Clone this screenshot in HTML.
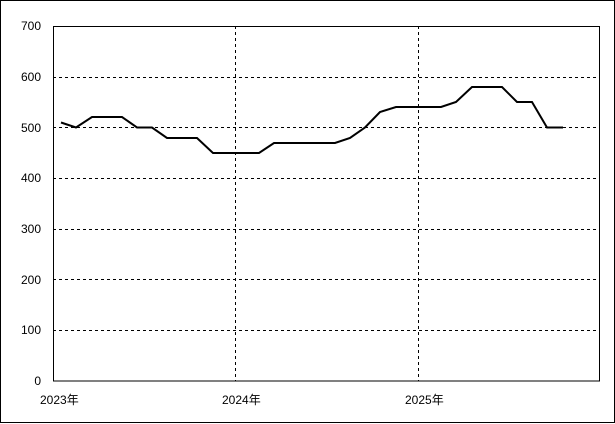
<!DOCTYPE html>
<html><head><meta charset="utf-8"><style>
html,body{margin:0;padding:0;background:#fff;}
svg{display:block;}
text{font-family:"Liberation Sans","Noto Sans CJK JP",sans-serif;font-size:12px;fill:#000;}
</style></head><body>
<svg width="615" height="424" viewBox="0 0 615 424">
<rect x="0.5" y="0.5" width="614" height="422" fill="#fff" stroke="#000" stroke-width="1"/>
<g stroke="#000" stroke-width="1" stroke-dasharray="3,3" fill="none">
<line x1="53" y1="26.5" x2="600" y2="26.5"/>
<line x1="53" y1="77.5" x2="600" y2="77.5"/>
<line x1="53" y1="127.5" x2="600" y2="127.5"/>
<line x1="53" y1="178.5" x2="600" y2="178.5"/>
<line x1="53" y1="229.5" x2="600" y2="229.5"/>
<line x1="53" y1="279.5" x2="600" y2="279.5"/>
<line x1="53" y1="330.5" x2="600" y2="330.5"/>
<line x1="235.5" y1="26" x2="235.5" y2="381"/>
<line x1="418.5" y1="26" x2="418.5" y2="381"/>
</g>
<rect x="53.5" y="26.5" width="546" height="354.5" fill="none" stroke="#000" stroke-width="1"/>
<g text-anchor="end">
<text x="41" y="385">0</text>
<text x="41" y="334">100</text>
<text x="41" y="284">200</text>
<text x="41" y="233">300</text>
<text x="41" y="182">400</text>
<text x="41" y="132">500</text>
<text x="41" y="81">600</text>
<text x="41" y="30">700</text>
</g>
<text x="40" y="404">2023年</text>
<text x="222" y="404">2024年</text>
<text x="405" y="404">2025年</text>
<polyline fill="none" stroke="#000" stroke-width="2" points="61,122.5 76,127.5 92,117 122,117 137,127.5 152,127.5 167,138 197,138 213,153 259,153 274,143 335,143 350,138 365,127.5 380,112 396,107 441,107 456,102 472,87 502,87 517,102 532,102 547,127.5 563,127.5"/>
</svg>
</body></html>
